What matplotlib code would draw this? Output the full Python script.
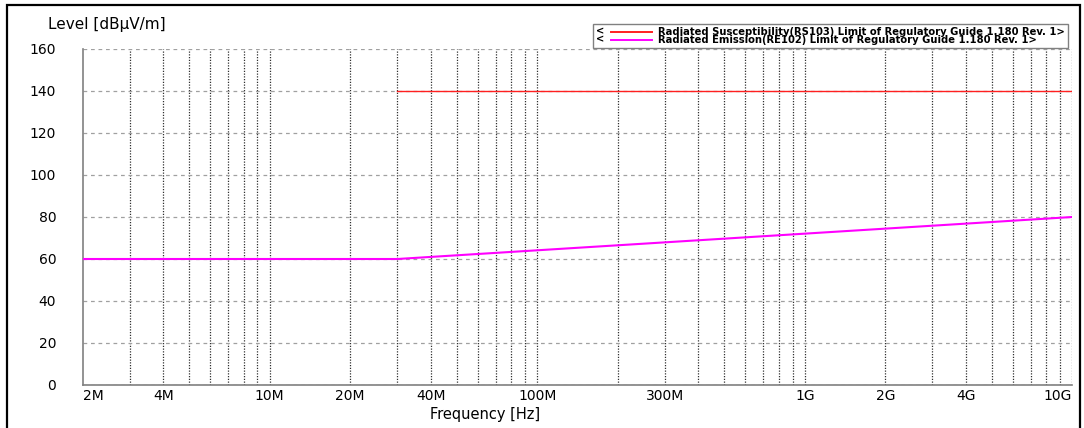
import matplotlib
matplotlib.use('Agg')
import matplotlib.pyplot as plt
from matplotlib.ticker import FixedLocator, NullFormatter
from matplotlib.legend_handler import HandlerBase
from matplotlib.lines import Line2D
from matplotlib.text import Text
from matplotlib.patches import Rectangle

# limit lines (frequency in Hz, level in dBuV/m)
freq_rs = [30e6, 10e9]
level_rs = [140, 140]
freq_re = [2e6, 30e6, 10e9]
level_re = [60, 60, 80]

label_rs = 'Radiated Susceptibility(RS103) Limit of Regulatory Guide 1.180 Rev. 1>'
label_re = 'Radiated Emission(RE102) Limit of Regulatory Guide 1.180 Rev. 1>'

x_ticks = [2e6, 4e6, 1e7, 2e7, 4e7, 1e8, 3e8, 1e9, 2e9, 4e9, 1e10]
x_labels = ['2M', '4M', '10M', '20M', '40M', '100M', '300M', '1G', '2G', '4G', '10G']
y_ticks = [0, 20, 40, 60, 80, 100, 120, 140, 160]

# gridlines at every 1..9 x 10^n between 3M and 10G
grid_x = [m * 10 ** e for e in range(6, 10) for m in range(1, 10)] + [1e10]
grid_x = [g for g in grid_x if g > 2e6]


class LtLineHandler(HandlerBase):
    # legend handle drawn as "<" followed by a short line
    def create_artists(self, legend, orig_handle, xdescent, ydescent,
                       width, height, fontsize, trans):
        y = height / 2 - ydescent
        mark = Text(-xdescent, y, '<', fontsize=fontsize, fontweight='bold',
                    family='DejaVu Sans', va='center', ha='left', transform=trans)
        x0 = -xdescent + 0.27 * width
        line = Line2D([x0, width - xdescent], [y, y],
                      color=orig_handle.get_color(), lw=1.4)
        line.set_transform(trans)
        return [mark, line]


W, H = 1084, 428
fig = plt.figure(figsize=(W / 100, H / 100), dpi=100)
fig.subplots_adjust(left=82.7 / W, right=1072.3 / W, bottom=1 - 385 / H, top=1 - 49 / H)
ax = fig.add_subplot(111)

l_rs, = ax.plot(freq_rs, level_rs, color='#ff2020', lw=1.0, zorder=3)
l_re, = ax.plot(freq_re, level_re, color='#ff00ff', lw=1.5, zorder=3)

ax.set_xscale('log')
ax.set_xlim(2e6, 1e10)
ax.set_ylim(0, 160)

ax.xaxis.remove_overlapping_locs = False
ax.set_xticks(x_ticks)
ax.set_xticklabels(x_labels)
ax.xaxis.set_minor_locator(FixedLocator(grid_x))
ax.xaxis.set_minor_formatter(NullFormatter())
ax.set_yticks(y_ticks)
ax.set_yticklabels([str(v) for v in y_ticks])

ax.tick_params(axis='both', which='both', length=0, labelsize=10, colors='black')
ax.tick_params(axis='y', pad=19)
ax.tick_params(axis='x', pad=3)
tl = ax.get_xticklabels()
tl[0].set_ha('left')
tl[-1].set_ha('right')

ax.grid(axis='x', which='minor', color='#303030', linestyle=(0, (1, 1.2)), lw=0.9)
ax.grid(axis='x', which='major', visible=False)
ax.grid(axis='y', which='major', color='#a0a0a0', linestyle=(0, (3, 3)), lw=0.9)
ax.set_axisbelow(True)

for s in ['top', 'right']:
    ax.spines[s].set_visible(False)
for s in ['left', 'bottom']:
    ax.spines[s].set_color('#808080')
    ax.spines[s].set_linewidth(1.2)

fig.text(48 / W, 1 - 29 / H, 'Level [dB\u03bcV/m]', ha='left', va='baseline', fontsize=11)
fig.text(485 / W, 1 - 419 / H, 'Frequency [Hz]', ha='center', va='baseline', fontsize=10.5)

leg = ax.legend([l_rs, l_re], [label_rs, label_re],
                handler_map={Line2D: LtLineHandler()},
                loc='upper right', bbox_to_anchor=(1068 / W, 1 - 24 / H),
                bbox_transform=fig.transFigure, borderaxespad=0,
                prop=dict(family='DejaVu Sans', weight='bold', size=7.2),
                handlelength=5.6, handletextpad=0.6, labelspacing=-0.2,
                borderpad=0.3, fancybox=False, edgecolor='#808080', framealpha=1)
leg.get_frame().set_linewidth(1.0)

# outer frame of the picture
fig.patches.append(Rectangle((7 / W, -0.1), (1080 - 7) / W, (H - 5) / H + 0.1,
                             transform=fig.transFigure, fill=False,
                             ec='black', lw=1.6))

fig.savefig('out.png', dpi=100)
